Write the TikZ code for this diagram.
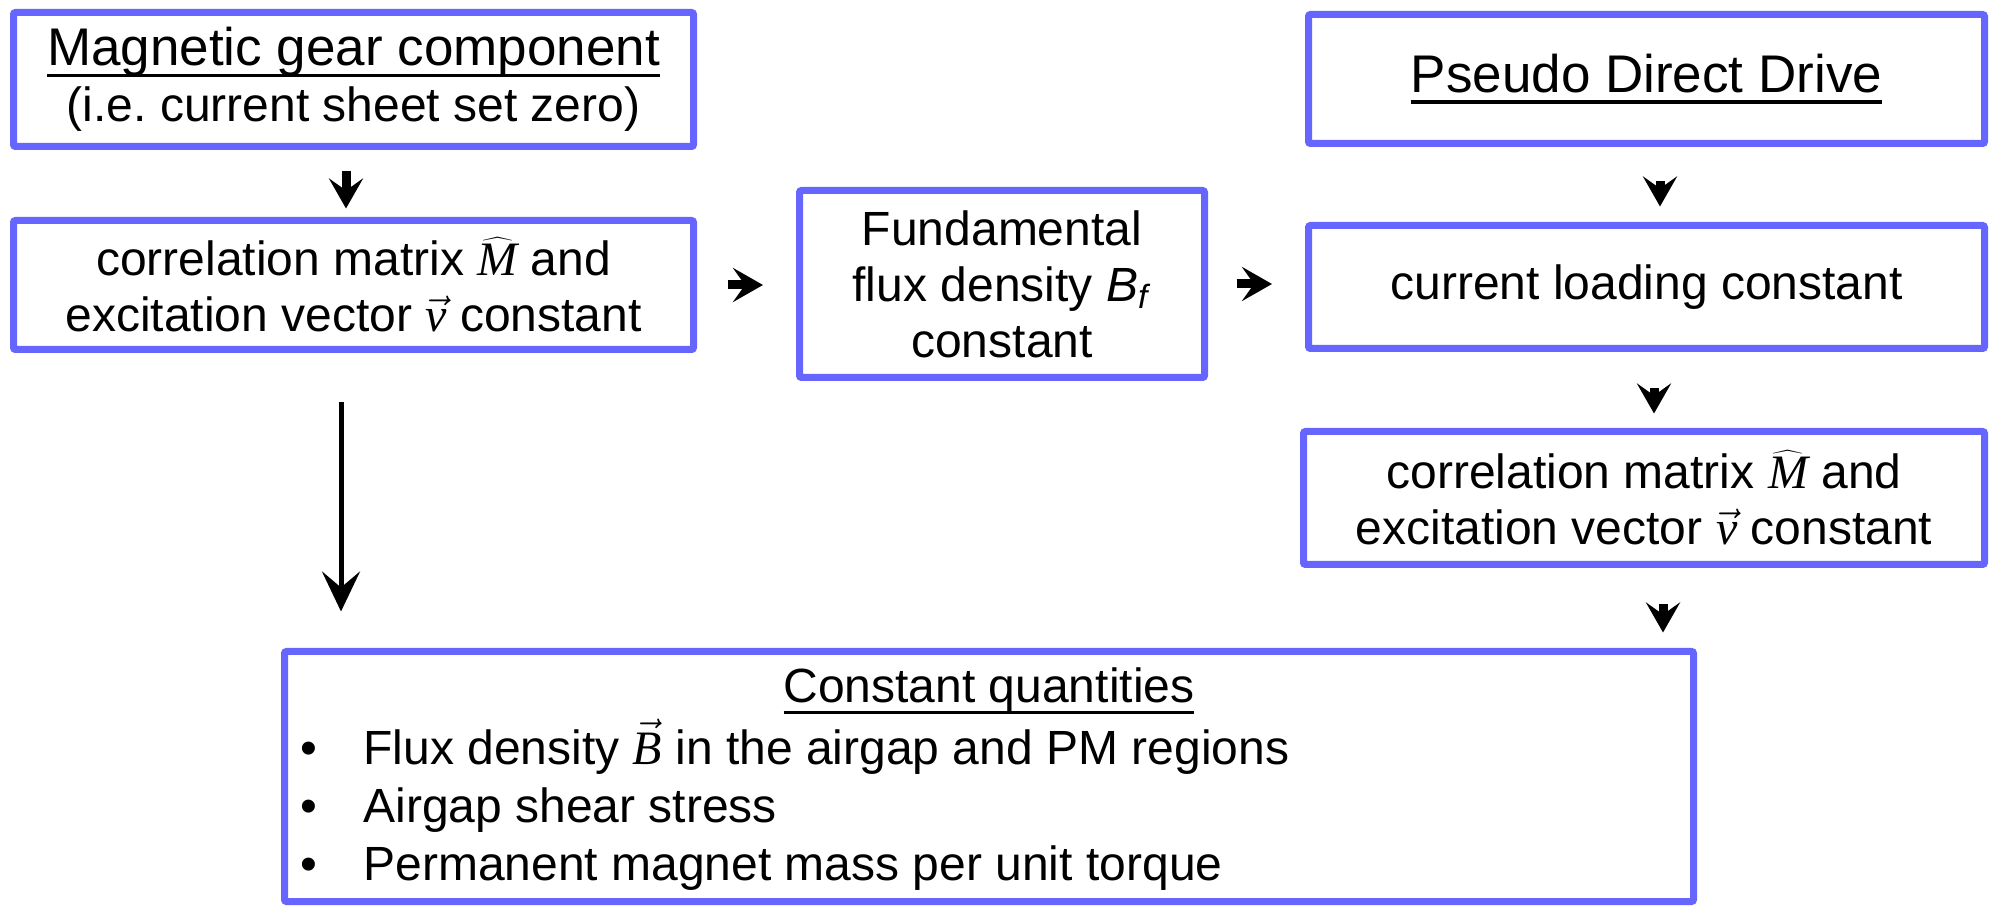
\documentclass[tikz,border=0pt]{standalone}
\usepackage{fontspec}
\setmainfont{Liberation Sans}
\newfontfamily\mathserif{Liberation Serif}
\usetikzlibrary{arrows.meta,calc}
\definecolor{boxblue}{RGB}{102,102,255}
\newcommand\myul[1]{\setbox0\hbox{#1}\rlap{\rule[-5.5pt]{\wd0}{1.6pt}}\box0}
\newcommand\mhat{$\widehat{\mbox{\mathserif\itshape M}}$}
\newcommand\mvec[1]{$\vec{\mbox{\mathserif\itshape #1}}$}
\frenchspacing
\begin{document}
\begin{tikzpicture}[x=0.5pt,y=-0.5pt,
  box/.style={draw=boxblue, line width=3.5pt, inner sep=0pt, align=center,
    font=\fontsize{24}{28}\selectfont, rounded corners=1pt},
  txt/.style={inner sep=0pt, font=\fontsize{24}{28}\selectfont},
  head/.style={font=\fontsize{26.5}{28}\selectfont},
  smallarrow/.style={line width=4.5pt, -{Stealth[length=15pt,width=17pt,inset=6pt]}},
  longarrow/.style={line width=2.5pt, -{Stealth[length=20pt,width=19pt,inset=8pt]}}
]
\useasboundingbox (0,0) rectangle (1993,908);

\node[box, minimum width=340pt, minimum height=67pt] (mg) at (353.5,79.5)
  {{\fontsize{26.5}{28}\selectfont\myul{Magnetic gear component}}\\(i.e. current sheet set zero)};
\node[box, minimum width=340pt, minimum height=64.5pt] (cmL) at (353.5,285)
  {correlation matrix \mhat{} and\\excitation vector \mvec{v} constant};
\node[box, minimum width=202.5pt, minimum height=93.5pt] (fund) at (1002,284)
  {Fundamental\\flux density \textit{B}\textsubscript{\textit{f}}\\constant};
\node[box, minimum width=338pt, minimum height=64.5pt, head] (pdd) at (1646.5,79)
  {\myul{Pseudo Direct Drive}};
\node[box, minimum width=338pt, minimum height=61.5pt] (cur) at (1646.5,287)
  {current loading constant};
\node[box, minimum width=340.5pt, minimum height=66.5pt] (cmR) at (1644,498)
  {correlation matrix \mhat{} and\\excitation vector \mvec{v} constant};
\node[box, minimum width=704.5pt, minimum height=125pt] (cq) at (989,776.5) {};

\node[txt, anchor=base] (cqt) at (989,703) {\myul{Constant quantities}};
\node[txt, anchor=base] (b1) at (309,765) {•};
\node[txt, anchor=base west] (l1) at (363,765) {Flux density \mvec{B} in the airgap and PM regions};
\node[txt, anchor=base] (b2) at (309,822.5) {•};
\node[txt, anchor=base west] (l2) at (363,822.5) {Airgap shear stress};
\node[txt, anchor=base] (b3) at (309,880) {•};
\node[txt, anchor=base west] (l3) at (363,880) {Permanent magnet mass per unit torque};

% connectors
\draw[smallarrow, shorten <=10.75pt, shorten >=4.25pt]
  ([xshift=-3.75pt]mg.south) -- ([xshift=-3.75pt]cmL.north);
\draw[smallarrow, shorten <=15.25pt, shorten >=16.5pt]
  (cmL.east) -- (cmL.east -| fund.west);
\draw[smallarrow, shorten <=14.25pt, shorten >=16.5pt]
  (fund.east) -- (fund.east -| cur.west);
\draw[smallarrow, shorten <=17.25pt, shorten >=7.75pt]
  ([xshift=6.75pt]pdd.south) -- ([xshift=6.75pt]cur.north);
\draw[smallarrow, shorten <=18.25pt, shorten >=7.25pt]
  ([xshift=3.75pt]cur.south) -- ([xshift=3.75pt]cur.south |- cmR.north);
\draw[smallarrow, shorten <=18.25pt, shorten >=7.75pt]
  ([xshift=9.5pt]cmR.south) -- ([xshift=9.5pt]cmR.south |- cq.north);
\draw[longarrow, shorten <=24.75pt, shorten >=18.25pt]
  ([xshift=-6.25pt]cmL.south) -- ([xshift=-6.25pt]cmL.south |- cq.north);
\end{tikzpicture}
\end{document}
